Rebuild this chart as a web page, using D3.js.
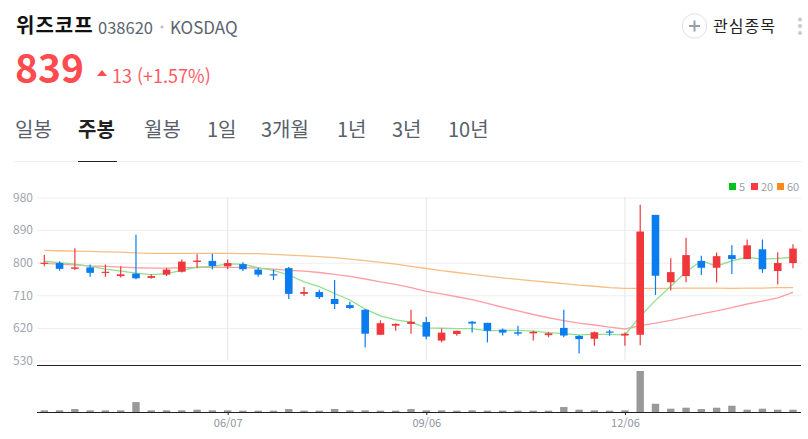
<!DOCTYPE html>
<html lang="ko">
<head>
<meta charset="utf-8">
<title>위즈코프</title>
<script src="https://cdn.jsdelivr.net/npm/d3@7"></script>
<style>
  html, body { margin: 0; padding: 0; background: #fff; overflow: hidden; }
  svg { display: block; }
  text { font-family: "Noto Sans CJK KR", "Noto Sans", sans-serif; }
</style>
</head>
<body>
<svg id="chart" width="808" height="439"></svg>
<script>
// weekly candles, oldest first
var opens  = [797,799,783,787,772,763,770,758,767,775,802,805,790,796,781,768,785,714,719,700,683,670,601,626,631,636,585,603,637,634,615,608,605,600,620,598,590,610,599,601,932,746,763,805,786,821,810,837,777,799];
var highs  = [821,804,840,795,795,790,877,768,785,809,823,825,809,801,786,781,788,733,725,752,692,672,641,633,670,650,618,612,639,634,618,626,613,609,670,600,610,615,607,960,932,812,869,819,828,848,864,864,829,851];
var lows   = [790,778,780,761,761,759,754,756,763,773,785,781,782,777,761,752,700,708,700,672,672,566,601,612,604,589,580,598,607,580,599,598,585,594,594,549,571,598,571,572,711,723,746,766,745,769,810,772,740,785];
var closes = [800,783,787,772,775,768,757,763,781,803,806,791,799,782,767,766,714,719,705,686,675,604,633,631,637,596,607,612,632,612,607,604,609,605,599,589,608,607,604,886,764,774,821,786,818,810,848,782,799,839];
var ma5    = [804,800,796,790,782,777,771,767,770,779,788,790,797,796,786,779,766,747,734,715,697,672,653,642,636,620,619,618,618,612,613,613,611,607,604,601,602,602,601,652,696,735,775,805,791,805,815,810,812,815];
var ma20   = [798,796,794,791,790,788,786,785,785,786,787,788,787,787,785,782,779,777,773,768,762,755,747,740,731,721,714,706,698,688,677,667,657,648,640,633,628,622,617,626,633,641,650,659,667,676,686,694,703,718];
var ma60   = [834,833,832,831,830,829,827,826,826,826,826,826,826,825,825,823,821,819,817,814,810,806,801,796,790,784,778,773,768,763,758,754,750,746,742,738,735,731,729,729,729,729,730,730,730,729,730,730,731,731];
var volumes = [5,5,9,5,5,5,30,5,5,5,7,5,5,4,4,4,9,4,4,9,5,5,4,4,9,5,5,4,5,4,4,4,4,4,15,7,5,4,5,124,25,10,13,9,13,19,7,10,7,7];

var priceTicks = [530,620,710,800,890,980];
var dateTickIndex = [12,25,38];
var dateTickLabels = ['06/07','09/06','12/06'];
var tabNames = ['일봉','주봉','월봉','1일','3개월','1년','3년','10년'];
var tabX = [15,78,144,207,261,337,392,448];
var legendNames = ['5','20','60'];

var UP = '#f0383c', DOWN = '#0a7cf0';

var svg = d3.select('#chart');

// header
svg.append('text').attr('x', 16).attr('y', 33).attr('font-size', 20).attr('letter-spacing', 1).attr('font-weight', 700).attr('fill', '#111').text('위즈코프');
svg.append('text').attr('x', 98).attr('y', 34).attr('font-size', 16.5).attr('fill', '#5b6472').text('038620');
svg.append('circle').attr('cx', 162).attr('cy', 27).attr('r', 1.5).attr('fill', '#b9bdc4');
svg.append('text').attr('x', 170).attr('y', 34).attr('font-size', 17).attr('fill', '#5b6472').text('KOSDAQ');

svg.append('text').attr('x', 15).attr('y', 83).attr('font-size', 39).attr('font-weight', 700).attr('fill', '#ff4b4f').text('839');
svg.append('path').attr('d', 'M97,76L102,70L107,76Z').attr('fill', '#ff4b4f');
svg.append('text').attr('x', 112).attr('y', 83).attr('font-size', 18).attr('fill', '#ff5a5f').text('13 (+1.57%)');

// watch button
svg.append('circle').attr('cx', 694.5).attr('cy', 26).attr('r', 12.3).attr('fill', '#fff').attr('stroke', '#dfe1e7').attr('stroke-width', 1);
svg.append('path').attr('d', 'M689,26H700M694.5,20.5V31.5').attr('stroke', '#979fad').attr('stroke-width', 2).attr('fill', 'none');
svg.append('text').attr('x', 713).attr('y', 32).attr('font-size', 16).attr('letter-spacing', 1).attr('fill', '#222').text('관심종목');
svg.selectAll('circle.more').data([19.5, 26, 33]).enter().append('circle')
  .attr('class', 'more').attr('cx', 800).attr('cy', function (d) { return d; }).attr('r', 2).attr('fill', '#c6c9d1');

// tabs
svg.selectAll('text.tab').data(tabNames).enter().append('text')
  .attr('class', 'tab')
  .attr('x', function (d, i) { return tabX[i]; })
  .attr('y', 137)
  .attr('font-size', 20)
  .attr('font-weight', function (d, i) { return i === 1 ? 700 : 400; })
  .attr('fill', function (d, i) { return i === 1 ? '#222' : '#5a606b'; })
  .text(function (d) { return d; });
svg.append('line').attr('x1', 14).attr('x2', 802).attr('y1', 161.5).attr('y2', 161.5).attr('stroke', '#eeeeee');
svg.append('line').attr('x1', 78).attr('x2', 117).attr('y1', 161.5).attr('y2', 161.5).attr('stroke', '#222');

// legend
var legendX = [729, 751, 777];
var legendColors = ['#00c21f', '#ff3b41', '#f98a1c'];
legendNames.forEach(function (name, i) {
  svg.append('rect').attr('x', legendX[i]).attr('y', 183).attr('width', 7).attr('height', 7).attr('fill', legendColors[i]);
  svg.append('text').attr('x', legendX[i] + 10).attr('y', 191).attr('font-size', 11).attr('fill', '#9aa0aa').text(name);
});

// scales
var left = 37, right = 801;
var x = d3.scaleLinear().domain([0, 49]).range([44.3, 793]);
var y = d3.scaleLinear().domain([530, 980]).range([360.5, 197.5]);
var yVol = d3.scaleLinear().domain([0, 124]).range([412, 371]);
var bodyW = 7.6, volW = 7.4;

// price grid + labels
var yAxis = d3.axisLeft(y).tickValues(priceTicks).tickSize(-(right - left)).tickPadding(4).tickFormat(d3.format('d'));
var yg = svg.append('g').attr('transform', 'translate(' + left + ',0)').call(yAxis);
yg.select('.domain').remove();
yg.selectAll('.tick line').attr('stroke', '#eeeeee');
yg.selectAll('.tick text').attr('font-size', 12).attr('fill', '#a0a5ae').attr('font-family', '"Noto Sans CJK KR", sans-serif');

// vertical grid
svg.selectAll('line.vgrid').data(dateTickIndex).enter().append('line')
  .attr('class', 'vgrid')
  .attr('x1', function (d) { return x(d); }).attr('x2', function (d) { return x(d); })
  .attr('y1', 197.5).attr('y2', 360.5).attr('stroke', '#e6e6e6');

// moving averages under the candles
function maLine(values) {
  return d3.line().x(function (d, i) { return x(i); }).y(function (d) { return y(d); })(values);
}
[[ma60, '#f9bd83'], [ma20, '#ff9ea3'], [ma5, '#8fe08f']].forEach(function (s) {
  svg.append('path').attr('d', maLine(s[0])).attr('fill', 'none').attr('stroke', s[1]).attr('stroke-width', 1.3);
});

// candles
var idx = d3.range(closes.length);
function candleColor(i) { return closes[i] >= opens[i] ? UP : DOWN; }
svg.selectAll('line.wick').data(idx).enter().append('line')
  .attr('class', 'wick')
  .attr('x1', function (i) { return x(i); }).attr('x2', function (i) { return x(i); })
  .attr('y1', function (i) { return y(highs[i]); }).attr('y2', function (i) { return y(lows[i]); })
  .attr('stroke', candleColor).attr('stroke-width', 1.2);
svg.selectAll('rect.body').data(idx).enter().append('rect')
  .attr('class', 'body')
  .attr('x', function (i) { return x(i) - bodyW / 2; })
  .attr('width', bodyW)
  .attr('y', function (i) { return y(Math.max(opens[i], closes[i])); })
  .attr('height', function (i) { return Math.max(1.2, Math.abs(y(opens[i]) - y(closes[i]))); })
  .attr('fill', candleColor);

// volume pane
svg.append('line').attr('x1', left).attr('x2', right).attr('y1', 365.5).attr('y2', 365.5).attr('stroke', '#222');
svg.selectAll('rect.vol').data(volumes).enter().append('rect')
  .attr('class', 'vol')
  .attr('x', function (d, i) { return x(i) - volW / 2; })
  .attr('width', volW)
  .attr('y', function (d) { return yVol(d); })
  .attr('height', function (d) { return yVol(0) - yVol(d); })
  .attr('fill', '#999');

var xAxis = d3.axisBottom(x).tickValues(dateTickIndex).tickSize(3).tickPadding(4)
  .tickFormat(function (d, i) { return dateTickLabels[i]; });
var xg = svg.append('g').attr('transform', 'translate(0,412)').call(xAxis);
xg.select('.domain').remove();
xg.selectAll('.tick line').attr('stroke', '#222');
xg.selectAll('.tick text').attr('font-size', 11).attr('fill', '#8d94a0').attr('font-family', '"Noto Sans CJK KR", sans-serif');
svg.append('line').attr('x1', left).attr('x2', right).attr('y1', 412.5).attr('y2', 412.5).attr('stroke', '#222');
</script>
</body>
</html>
